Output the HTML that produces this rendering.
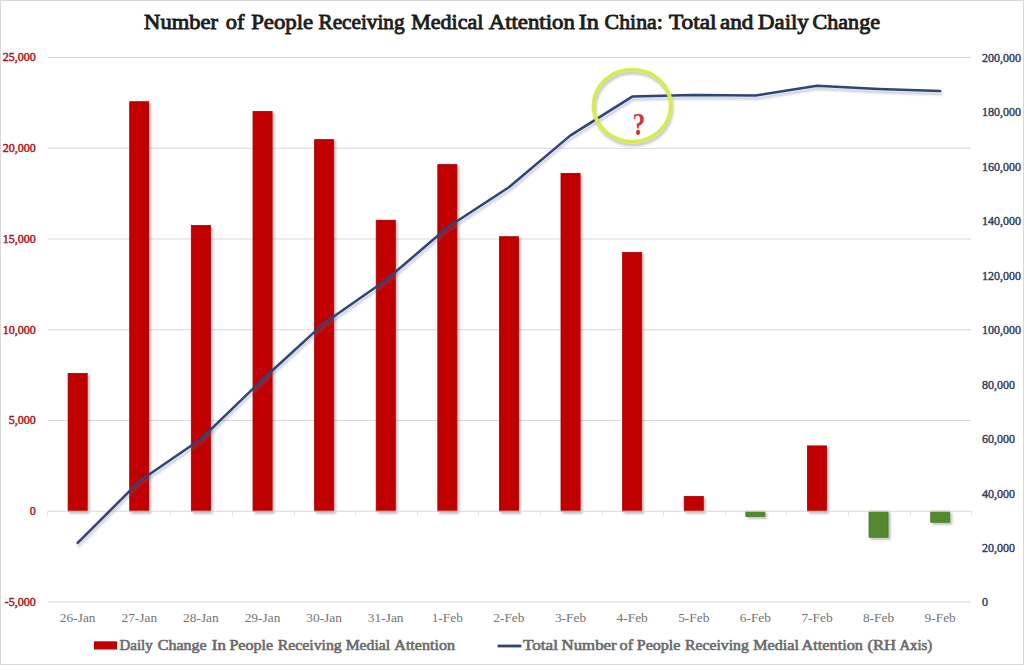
<!DOCTYPE html>
<html><head><meta charset="utf-8"><style>
html,body{margin:0;padding:0;background:#fff;}
#wrap{position:relative;width:1024px;height:665px;overflow:hidden;background:#fff;}
#frame{position:absolute;left:0;top:0;width:1024px;height:665px;box-sizing:border-box;border:1px solid #d9d9d9;}
svg{position:absolute;left:0;top:0;}
text{font-family:"Liberation Serif",serif;}
</style></head><body><div id="wrap">
<svg width="1024" height="665" viewBox="0 0 1024 665">
<defs>
<filter id="sh" x="-50%" y="-50%" width="200%" height="200%">
<feGaussianBlur in="SourceAlpha" stdDeviation="1.1"/>
<feOffset dx="2" dy="2.2" result="b"/>
<feFlood flood-color="#000" flood-opacity="0.25"/>
<feComposite in2="b" operator="in" result="s"/>
<feMerge><feMergeNode in="s"/><feMergeNode in="SourceGraphic"/></feMerge>
</filter>
<filter id="lsh" x="-10%" y="-10%" width="120%" height="130%">
<feGaussianBlur in="SourceAlpha" stdDeviation="1.2"/>
<feOffset dx="1" dy="3" result="b"/>
<feFlood flood-color="#5a6a9a" flood-opacity="0.35"/>
<feComposite in2="b" operator="in" result="s"/>
<feMerge><feMergeNode in="s"/><feMergeNode in="SourceGraphic"/></feMerge>
</filter>
<filter id="csh" x="-20%" y="-20%" width="140%" height="140%">
<feGaussianBlur in="SourceAlpha" stdDeviation="1.2"/>
<feOffset dx="0.5" dy="3.2" result="b"/>
<feFlood flood-color="#8088a8" flood-opacity="0.45"/>
<feComposite in2="b" operator="in" result="s"/>
<feMerge><feMergeNode in="s"/><feMergeNode in="SourceGraphic"/></feMerge>
</filter>
</defs>

<g font-size="21" fill="#1c1c1c" stroke="#1c1c1c" stroke-width="0.85"><text x="144.1" y="28.8" textLength="73.9" lengthAdjust="spacingAndGlyphs">Number</text><text x="225.8" y="28.8" textLength="18.7" lengthAdjust="spacingAndGlyphs">of</text><text x="251.2" y="28.8" textLength="62.0" lengthAdjust="spacingAndGlyphs">People</text><text x="318.5" y="28.8" textLength="86.1" lengthAdjust="spacingAndGlyphs">Receiving</text><text x="411.2" y="28.8" textLength="72.1" lengthAdjust="spacingAndGlyphs">Medical</text><text x="488.7" y="28.8" textLength="86.1" lengthAdjust="spacingAndGlyphs">Attention</text><text x="578.8" y="28.8" textLength="20.1" lengthAdjust="spacingAndGlyphs">In</text><text x="604.6" y="28.8" textLength="58.2" lengthAdjust="spacingAndGlyphs">China:</text><text x="668.9" y="28.8" textLength="47.7" lengthAdjust="spacingAndGlyphs">Total</text><text x="719.9" y="28.8" textLength="33.5" lengthAdjust="spacingAndGlyphs">and</text><text x="758.1" y="28.8" textLength="50.6" lengthAdjust="spacingAndGlyphs">Daily</text><text x="812.5" y="28.8" textLength="67.5" lengthAdjust="spacingAndGlyphs">Change</text></g>
<line x1="47.6" y1="57.5" x2="970.8" y2="57.5" stroke="#d9d9d9" stroke-width="1"/>
<line x1="47.6" y1="148.25" x2="970.8" y2="148.25" stroke="#d9d9d9" stroke-width="1"/>
<line x1="47.6" y1="239.0" x2="970.8" y2="239.0" stroke="#d9d9d9" stroke-width="1"/>
<line x1="47.6" y1="329.75" x2="970.8" y2="329.75" stroke="#d9d9d9" stroke-width="1"/>
<line x1="47.6" y1="420.5" x2="970.8" y2="420.5" stroke="#d9d9d9" stroke-width="1"/>
<line x1="47.6" y1="602.0" x2="970.8" y2="602.0" stroke="#d9d9d9" stroke-width="1"/>
<text x="35.8" y="61.3" text-anchor="end" font-size="12" fill="#b20f16" stroke="#b20f16" stroke-width="0.45">25,000</text>
<text x="35.8" y="152.1" text-anchor="end" font-size="12" fill="#b20f16" stroke="#b20f16" stroke-width="0.45">20,000</text>
<text x="35.8" y="242.8" text-anchor="end" font-size="12" fill="#b20f16" stroke="#b20f16" stroke-width="0.45">15,000</text>
<text x="35.8" y="333.6" text-anchor="end" font-size="12" fill="#b20f16" stroke="#b20f16" stroke-width="0.45">10,000</text>
<text x="35.8" y="424.3" text-anchor="end" font-size="12" fill="#b20f16" stroke="#b20f16" stroke-width="0.45">5,000</text>
<text x="35.8" y="515.0" text-anchor="end" font-size="12" fill="#b20f16" stroke="#b20f16" stroke-width="0.45">0</text>
<text x="35.8" y="605.8" text-anchor="end" font-size="12" fill="#b20f16" stroke="#b20f16" stroke-width="0.45">-5,000</text>
<text x="982" y="61.9" font-size="12" fill="#2e3b5a" stroke="#2e3b5a" stroke-width="0.4">200,000</text>
<text x="982" y="116.3" font-size="12" fill="#2e3b5a" stroke="#2e3b5a" stroke-width="0.4">180,000</text>
<text x="982" y="170.8" font-size="12" fill="#2e3b5a" stroke="#2e3b5a" stroke-width="0.4">160,000</text>
<text x="982" y="225.2" font-size="12" fill="#2e3b5a" stroke="#2e3b5a" stroke-width="0.4">140,000</text>
<text x="982" y="279.7" font-size="12" fill="#2e3b5a" stroke="#2e3b5a" stroke-width="0.4">120,000</text>
<text x="982" y="334.1" font-size="12" fill="#2e3b5a" stroke="#2e3b5a" stroke-width="0.4">100,000</text>
<text x="982" y="388.6" font-size="12" fill="#2e3b5a" stroke="#2e3b5a" stroke-width="0.4">80,000</text>
<text x="982" y="443.0" font-size="12" fill="#2e3b5a" stroke="#2e3b5a" stroke-width="0.4">60,000</text>
<text x="982" y="497.5" font-size="12" fill="#2e3b5a" stroke="#2e3b5a" stroke-width="0.4">40,000</text>
<text x="982" y="551.9" font-size="12" fill="#2e3b5a" stroke="#2e3b5a" stroke-width="0.4">20,000</text>
<text x="982" y="606.4" font-size="12" fill="#2e3b5a" stroke="#2e3b5a" stroke-width="0.4">0</text>
<text x="77.7" y="621.8" text-anchor="middle" font-size="13.4" fill="#737373">26-Jan</text>
<text x="139.3" y="621.8" text-anchor="middle" font-size="13.4" fill="#737373">27-Jan</text>
<text x="200.9" y="621.8" text-anchor="middle" font-size="13.4" fill="#737373">28-Jan</text>
<text x="262.5" y="621.8" text-anchor="middle" font-size="13.4" fill="#737373">29-Jan</text>
<text x="324.1" y="621.8" text-anchor="middle" font-size="13.4" fill="#737373">30-Jan</text>
<text x="385.7" y="621.8" text-anchor="middle" font-size="13.4" fill="#737373">31-Jan</text>
<text x="447.3" y="621.8" text-anchor="middle" font-size="13.4" fill="#737373">1-Feb</text>
<text x="508.9" y="621.8" text-anchor="middle" font-size="13.4" fill="#737373">2-Feb</text>
<text x="570.5" y="621.8" text-anchor="middle" font-size="13.4" fill="#737373">3-Feb</text>
<text x="632.2" y="621.8" text-anchor="middle" font-size="13.4" fill="#737373">4-Feb</text>
<text x="693.8" y="621.8" text-anchor="middle" font-size="13.4" fill="#737373">5-Feb</text>
<text x="755.4" y="621.8" text-anchor="middle" font-size="13.4" fill="#737373">6-Feb</text>
<text x="817.0" y="621.8" text-anchor="middle" font-size="13.4" fill="#737373">7-Feb</text>
<text x="878.6" y="621.8" text-anchor="middle" font-size="13.4" fill="#737373">8-Feb</text>
<text x="940.2" y="621.8" text-anchor="middle" font-size="13.4" fill="#737373">9-Feb</text>
<g filter="url(#sh)">
<rect x="68.1" y="373.4" width="19.1" height="137.8" fill="#c00000" stroke="#a80000" stroke-width="0.8"/>
<rect x="129.7" y="101.7" width="19.1" height="409.6" fill="#c00000" stroke="#a80000" stroke-width="0.8"/>
<rect x="191.3" y="225.4" width="19.1" height="285.9" fill="#c00000" stroke="#a80000" stroke-width="0.8"/>
<rect x="253.0" y="111.5" width="19.1" height="399.8" fill="#c00000" stroke="#a80000" stroke-width="0.8"/>
<rect x="314.6" y="139.6" width="19.1" height="371.7" fill="#c00000" stroke="#a80000" stroke-width="0.8"/>
<rect x="376.2" y="220.2" width="19.1" height="291.1" fill="#c00000" stroke="#a80000" stroke-width="0.8"/>
<rect x="437.8" y="164.6" width="19.1" height="346.7" fill="#c00000" stroke="#a80000" stroke-width="0.8"/>
<rect x="499.4" y="236.7" width="19.1" height="274.6" fill="#c00000" stroke="#a80000" stroke-width="0.8"/>
<rect x="561.0" y="173.4" width="19.1" height="337.9" fill="#c00000" stroke="#a80000" stroke-width="0.8"/>
<rect x="622.6" y="252.4" width="19.1" height="258.9" fill="#c00000" stroke="#a80000" stroke-width="0.8"/>
<rect x="684.2" y="496.4" width="19.1" height="14.8" fill="#c00000" stroke="#a80000" stroke-width="0.8"/>
<rect x="745.8" y="511.25" width="19.1" height="5.1" fill="#538a2e" stroke="#487a2a" stroke-width="0.8"/>
<rect x="807.4" y="445.9" width="19.1" height="65.3" fill="#c00000" stroke="#a80000" stroke-width="0.8"/>
<rect x="869.0" y="511.25" width="19.1" height="26.0" fill="#538a2e" stroke="#487a2a" stroke-width="0.8"/>
<rect x="930.7" y="511.25" width="19.1" height="11.0" fill="#538a2e" stroke="#487a2a" stroke-width="0.8"/>
</g>
<line x1="47.6" y1="511.25" x2="970.8" y2="511.25" stroke="#d9d9d9" stroke-width="1"/>
<line x1="47.5" y1="511.25" x2="47.5" y2="515.75" stroke="#e6e6e6" stroke-width="1"/>
<line x1="109.5" y1="511.25" x2="109.5" y2="515.75" stroke="#e6e6e6" stroke-width="1"/>
<line x1="170.5" y1="511.25" x2="170.5" y2="515.75" stroke="#e6e6e6" stroke-width="1"/>
<line x1="232.5" y1="511.25" x2="232.5" y2="515.75" stroke="#e6e6e6" stroke-width="1"/>
<line x1="294.5" y1="511.25" x2="294.5" y2="515.75" stroke="#e6e6e6" stroke-width="1"/>
<line x1="355.5" y1="511.25" x2="355.5" y2="515.75" stroke="#e6e6e6" stroke-width="1"/>
<line x1="417.5" y1="511.25" x2="417.5" y2="515.75" stroke="#e6e6e6" stroke-width="1"/>
<line x1="478.5" y1="511.25" x2="478.5" y2="515.75" stroke="#e6e6e6" stroke-width="1"/>
<line x1="540.5" y1="511.25" x2="540.5" y2="515.75" stroke="#e6e6e6" stroke-width="1"/>
<line x1="602.5" y1="511.25" x2="602.5" y2="515.75" stroke="#e6e6e6" stroke-width="1"/>
<line x1="663.5" y1="511.25" x2="663.5" y2="515.75" stroke="#e6e6e6" stroke-width="1"/>
<line x1="725.5" y1="511.25" x2="725.5" y2="515.75" stroke="#e6e6e6" stroke-width="1"/>
<line x1="786.5" y1="511.25" x2="786.5" y2="515.75" stroke="#e6e6e6" stroke-width="1"/>
<line x1="848.5" y1="511.25" x2="848.5" y2="515.75" stroke="#e6e6e6" stroke-width="1"/>
<line x1="910.5" y1="511.25" x2="910.5" y2="515.75" stroke="#e6e6e6" stroke-width="1"/>
<line x1="971.5" y1="511.25" x2="971.5" y2="515.75" stroke="#e6e6e6" stroke-width="1"/>
<polyline points="77.7,542.9 139.3,481.3 200.9,439.0 262.5,379.5 324.1,323.2 385.7,280.3 447.3,227.5 508.9,187.2 570.5,135.4 632.2,96.6 693.8,94.9 755.4,95.5 817.0,85.7 878.6,88.9 940.2,91.1" fill="none" stroke="#2f4478" stroke-width="2.5" stroke-linejoin="round" stroke-linecap="round" filter="url(#lsh)"/>
<ellipse cx="632.25" cy="105.6" rx="38.65" ry="36" fill="none" stroke="#d9ec48" stroke-width="3.9" filter="url(#csh)"/>
<text transform="translate(638.9,134.6) scale(0.88,1.1)" x="0" y="0" text-anchor="middle" font-size="29" font-weight="bold" fill="#d8303e">?</text>
<rect x="94" y="641.3" width="23" height="8.2" fill="#c00000"/>
<g font-size="14.5" fill="#6a6a6a" stroke="#6a6a6a" stroke-width="0.6"><text x="119.5" y="649.6" textLength="33.2" lengthAdjust="spacingAndGlyphs">Daily</text><text x="157.7" y="649.6" textLength="49.0" lengthAdjust="spacingAndGlyphs">Change</text><text x="211.8" y="649.6" textLength="14.0" lengthAdjust="spacingAndGlyphs">In</text><text x="229.4" y="649.6" textLength="43.8" lengthAdjust="spacingAndGlyphs">People</text><text x="277.7" y="649.6" textLength="64.1" lengthAdjust="spacingAndGlyphs">Receiving</text><text x="345.7" y="649.6" textLength="44.4" lengthAdjust="spacingAndGlyphs">Medial</text><text x="394.3" y="649.6" textLength="60.7" lengthAdjust="spacingAndGlyphs">Attention</text><text x="523.0" y="649.6" textLength="35.0" lengthAdjust="spacingAndGlyphs">Total</text><text x="561.6" y="649.6" textLength="55.0" lengthAdjust="spacingAndGlyphs">Number</text><text x="619.6" y="649.6" textLength="13.5" lengthAdjust="spacingAndGlyphs">of</text><text x="636.7" y="649.6" textLength="43.8" lengthAdjust="spacingAndGlyphs">People</text><text x="685.0" y="649.6" textLength="63.8" lengthAdjust="spacingAndGlyphs">Receiving</text><text x="753.3" y="649.6" textLength="45.6" lengthAdjust="spacingAndGlyphs">Medial</text><text x="801.6" y="649.6" textLength="61.3" lengthAdjust="spacingAndGlyphs">Attention</text><text x="867.4" y="649.6" textLength="28.5" lengthAdjust="spacingAndGlyphs">(RH</text><text x="899.4" y="649.6" textLength="32.9" lengthAdjust="spacingAndGlyphs">Axis)</text></g>
<line x1="497.6" y1="646" x2="521.4" y2="646" stroke="#2f4478" stroke-width="2.8"/>
</svg><div id="frame"></div></div></body></html>
